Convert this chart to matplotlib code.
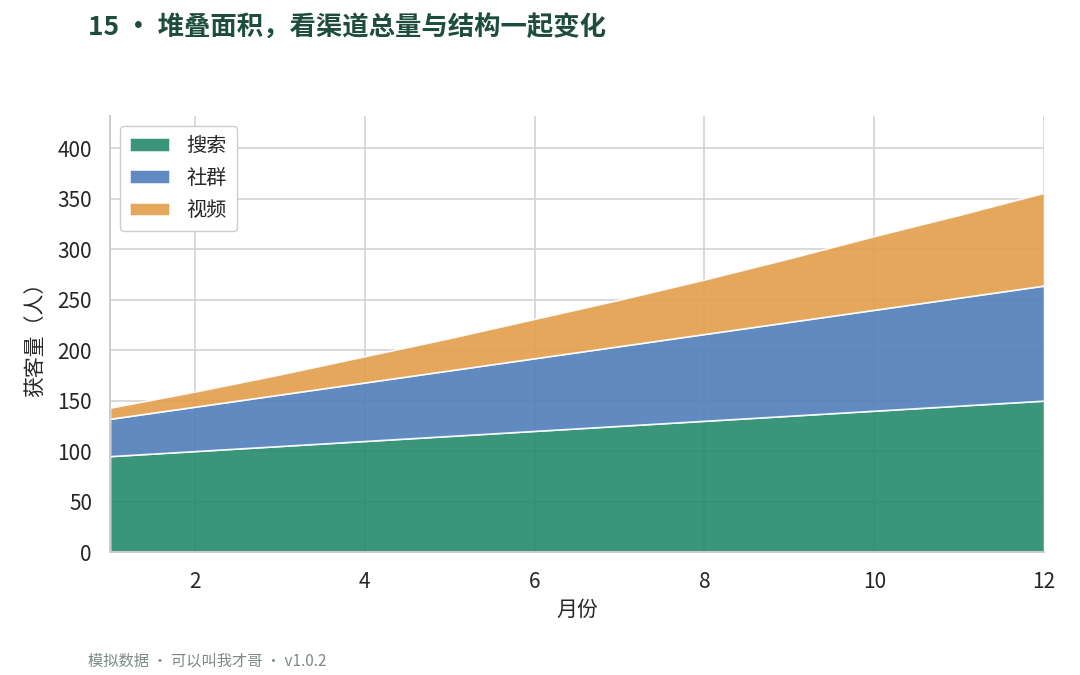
import matplotlib
matplotlib.use("Agg")
import matplotlib.pyplot as plt

plt.rcParams['font.family'] = ['Noto Sans CJK SC', 'DejaVu Sans']

months = [1, 2, 3, 4, 5, 6, 7, 8, 9, 10, 11, 12]
search = [95, 100, 105, 110, 115, 120, 125, 130, 135, 140, 145, 150]
social = [37, 44, 51, 58, 65, 72, 79, 86, 93, 100, 107, 114]
video = [11, 15, 20, 26, 32, 39, 46, 54, 63, 73, 82, 92]
labels = ["搜索", "社群", "视频"]
colors = ["#248a6c", "#507fb9", "#e39e4a"]

fig = plt.figure(figsize=(10.8, 6.75), dpi=100)
ax = fig.add_axes([0.1019, 0.1822, 0.8648, 0.6459])

ax.stackplot(months, search, social, video, labels=labels, colors=colors,
             alpha=0.9, edgecolor="white", linewidth=1.2, zorder=2)

ax.set_xlim(1, 12)
ax.set_ylim(0, 432)
ax.set_xticks([2, 4, 6, 8, 10, 12])
ax.set_yticks([0, 50, 100, 150, 200, 250, 300, 350, 400])
ax.set_axisbelow(True)
ax.grid(True, color="#d3d3d3", linewidth=1.2, zorder=0)
for s in ["top", "right"]:
    ax.spines[s].set_visible(False)
for s in ["left", "bottom"]:
    ax.spines[s].set_color("#cccccc")
    ax.spines[s].set_linewidth(1.4)
ax.tick_params(axis="both", length=0, labelsize=15, colors="#262626")
ax.tick_params(axis="y", pad=13)
ax.tick_params(axis="x", pad=14)

ax.set_xlabel("月份", fontsize=15, color="#262626", labelpad=4)
ax.set_ylabel("获客量（人）", fontsize=15, color="#262626", labelpad=8)

leg = ax.legend(loc="upper left", fontsize=14.5, frameon=True, fancybox=True,
                edgecolor="#cccccc", framealpha=1.0, handlelength=2.0,
                handleheight=0.65, borderpad=0.5, labelspacing=0.55,
                handletextpad=0.8)
for t in leg.get_texts():
    t.set_color("#262626")

fig.text(88 / 1080, 1 - 28 / 675, "15 • 堆叠面积，看渠道总量与结构一起变化",
         fontsize=19, fontweight="bold", color="#1e4d3c", ha="left", va="center")
fig.text(88 / 1080, 1 - 661 / 675, "模拟数据 · 可以叫我才哥 · v1.0.2",
         fontsize=11, color="#7b8a86", ha="left", va="center")

fig.savefig("out.png", dpi=100)
